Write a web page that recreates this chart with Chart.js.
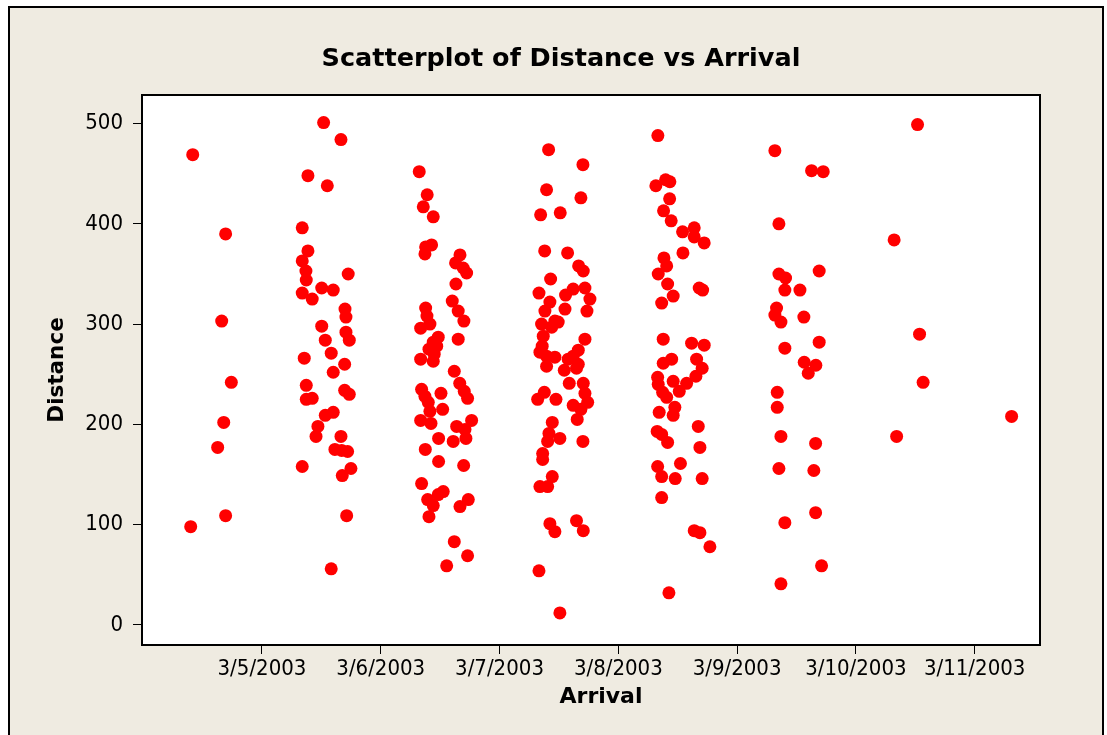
<!DOCTYPE html>
<html><head><meta charset="utf-8">
<script src="https://cdn.jsdelivr.net/npm/chart.js@4/dist/chart.umd.min.js"></script>
<style>html,body{margin:0;padding:0;background:#fff;overflow:hidden}</style>
</head><body>
<canvas id="c" width="1107" height="735"></canvas>
<script>
// Arrival as day of March 2003 (fractional), Distance values
const arrival = [
4.417,4.694,4.661,4.742,4.678,4.627,4.694,4.400,
5.519,5.665,5.387,5.550,5.339,5.387,5.339,5.370,5.373,5.726,5.339,5.503,5.600,5.423,5.699,5.707,5.503,5.707,5.735,5.533,5.583,5.356,5.696,5.600,5.373,5.373,5.423,5.696,5.735,5.533,5.600,5.471,5.455,5.665,5.614,5.671,5.721,5.339,5.749,5.676,5.713,5.583,
6.324,6.391,6.358,6.442,6.428,6.378,6.372,6.667,6.630,6.694,6.723,6.633,6.602,6.652,6.700,6.378,6.389,6.414,6.336,6.484,6.442,6.652,6.406,6.471,6.450,6.336,6.442,6.619,6.665,6.344,6.372,6.400,6.414,6.507,6.521,6.703,6.731,6.336,6.423,6.765,6.639,6.709,6.610,6.717,6.487,6.375,6.487,6.698,6.344,6.526,6.484,6.395,6.442,6.406,6.737,6.667,6.619,6.731,6.555,
7.413,7.702,7.396,7.685,7.346,7.511,7.380,7.573,7.666,7.705,7.430,7.332,7.620,7.719,7.556,7.761,7.424,7.382,7.551,7.736,7.466,7.354,7.494,7.368,7.439,7.359,7.719,7.340,7.396,7.466,7.663,7.620,7.578,7.396,7.545,7.648,7.663,7.587,7.705,7.377,7.321,7.475,7.719,7.742,7.620,7.685,7.654,7.444,7.416,7.508,7.405,7.702,7.363,7.363,7.444,7.340,7.405,7.424,7.466,7.648,7.705,7.332,7.508,
8.333,8.316,8.398,8.434,8.432,8.381,8.445,8.541,8.639,8.639,8.723,8.544,8.384,8.407,8.336,8.415,8.462,8.681,8.710,8.365,8.378,8.617,8.723,8.378,8.449,8.659,8.706,8.653,8.331,8.336,8.462,8.575,8.513,8.373,8.407,8.476,8.344,8.462,8.673,8.327,8.365,8.415,8.687,8.523,8.331,8.365,8.479,8.706,8.365,8.639,8.687,8.771,8.426,
9.318,9.627,9.725,9.352,9.691,9.352,9.408,9.402,9.529,9.332,9.318,9.369,9.562,9.402,9.691,9.565,9.663,9.599,9.338,9.338,9.369,9.661,9.352,9.646,9.402,9.661,9.711,9.369,
10.519,10.322,10.536,10.566,11.311,10.343
];
const distance = [
469,390,303,242,202,177,109,98,
501,484,448,438,396,373,363,353,344,350,331,336,334,325,315,307,298,292,284,284,271,266,260,252,239,225,226,234,230,209,212,198,188,188,175,174,173,158,156,149,109,56,
452,429,417,407,379,377,370,369,361,356,351,340,323,313,303,316,308,300,296,287,282,285,275,278,270,265,263,253,241,235,228,222,213,231,215,233,226,204,201,204,198,195,183,186,186,175,163,159,141,133,130,125,119,108,125,118,83,69,59,
474,459,434,426,409,411,373,371,358,353,345,331,335,336,329,325,322,313,315,313,303,300,302,288,297,278,285,272,268,267,274,268,265,258,254,256,260,241,241,232,225,225,231,222,219,215,205,202,191,186,183,183,171,165,148,138,138,101,93,104,94,54,12,
488,438,444,442,425,413,403,392,396,387,381,371,366,358,350,340,328,336,334,321,285,281,279,261,265,265,256,248,247,240,243,241,233,232,227,217,212,209,198,193,190,182,177,161,158,148,146,146,127,94,92,78,32,
473,453,452,400,353,350,346,334,334,316,309,302,307,276,282,262,259,251,232,217,188,181,156,154,102,112,59,41,
499,384,290,242,208,188
];
const xTickValues = [5, 6, 7, 8, 9, 10, 11];
const xTickLabels = ['3/5/2003', '3/6/2003', '3/7/2003', '3/8/2003', '3/9/2003', '3/10/2003', '3/11/2003'];
const yTickValues = [0, 100, 200, 300, 400, 500];
const xAxisTitle = 'Arrival';

const FONT_C = "'DejaVu Sans Condensed', 'DejaVu Sans', sans-serif";
const FONT_B = "'DejaVu Sans', sans-serif";
const BEIGE = '#EFEBE1';

const framePlugin = {
  id: 'frame',
  beforeDraw(chart) {
    const ctx = chart.ctx, a = chart.chartArea;
    ctx.save();
    ctx.fillStyle = '#ffffff';
    ctx.fillRect(0, 0, chart.width, chart.height);
    ctx.fillStyle = BEIGE;
    ctx.fillRect(9, 7, chart.width - 13, chart.height);
    ctx.strokeStyle = '#000';
    ctx.lineWidth = 2;
    ctx.strokeRect(9, 7, chart.width - 13, chart.height + 10);
    ctx.fillStyle = '#ffffff';
    ctx.fillRect(a.left, a.top, a.right - a.left, a.bottom - a.top);
    ctx.restore();
  },
  afterDatasetsDraw(chart) {
    const ctx = chart.ctx, a = chart.chartArea;
    ctx.save();
    ctx.strokeStyle = '#000';
    ctx.lineWidth = 2;
    ctx.strokeRect(a.left, a.top, a.right - a.left, a.bottom - a.top);
    ctx.restore();
  },
  afterDraw(chart) {
    const ctx = chart.ctx, a = chart.chartArea;
    ctx.save();
    ctx.fillStyle = '#000';
    ctx.font = 'bold 22px ' + FONT_B;
    ctx.textAlign = 'center';
    ctx.textBaseline = 'middle';
    ctx.fillText(xAxisTitle, (a.left + a.right) / 2 + 10, 697);
    ctx.restore();
  }
};

new Chart(document.getElementById('c'), {
  type: 'scatter',
  data: {
    datasets: [{
      data: arrival.map((x, i) => ({ x: x, y: distance[i] })),
      backgroundColor: '#FF0000',
      borderWidth: 0,
      pointRadius: 6.5,
      pointHoverRadius: 6.5
    }]
  },
  options: {
    responsive: false,
    devicePixelRatio: 1,
    animation: false,
    events: [],
    layout: { padding: { left: 82, right: 67, top: 0, bottom: 0 } },
    plugins: {
      legend: { display: false },
      tooltip: { enabled: false },
      title: {
        display: true,
        text: 'Scatterplot of Distance vs Arrival',
        color: '#000',
        font: { family: FONT_B, size: 25.5, weight: 'bold', lineHeight: 1 },
        padding: { top: 47, bottom: 22.5 }
      }
    },
    scales: {
      x: {
        type: 'linear',
        min: 3.99,
        max: 11.55,
        afterFit(s) { s.height = 90; },
        afterBuildTicks(s) { s.ticks = xTickValues.map(v => ({ value: v })); },
        border: { display: false },
        grid: { display: true, drawOnChartArea: false, drawTicks: true, tickLength: 9, color: '#000', lineWidth: 1 },
        ticks: {
          color: '#000', padding: 2, maxRotation: 0, autoSkip: false,
          font: { family: FONT_C, size: 22 },
          callback(v) { const i = xTickValues.indexOf(v); return i >= 0 ? xTickLabels[i] : ''; }
        },
        title: { display: false }
      },
      y: {
        type: 'linear',
        min: -20,
        max: 528.5,
        afterFit(s) { s.width = 60; },
        afterBuildTicks(s) { s.ticks = yTickValues.map(v => ({ value: v })); },
        border: { display: false },
        grid: { display: true, drawOnChartArea: false, drawTicks: true, tickLength: 9, color: '#000', lineWidth: 1 },
        ticks: { color: '#000', padding: 10, font: { family: FONT_C, size: 22 } },
        title: {
          display: true, text: 'Distance', color: '#000',
          font: { family: FONT_B, size: 21.5, weight: 'bold', lineHeight: 1.2 },
          padding: { top: -37, bottom: 0 }
        }
      }
    }
  },
  plugins: [framePlugin]
});
</script>
</body></html>
